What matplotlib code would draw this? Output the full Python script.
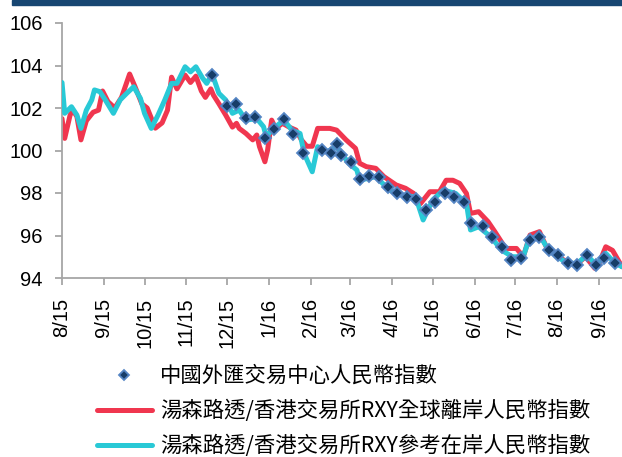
import matplotlib
matplotlib.use("Agg")
import matplotlib.pyplot as plt
import pandas as pd

plt.rcParams["font.family"] = ["Liberation Sans", "Noto Sans CJK TC"]

# CFETS RMB index (weekly)
cfets_dates = [
    "2015-11-20", "2015-12-01", "2015-12-08", "2015-12-15", "2015-12-22",
    "2015-12-29", "2016-01-05", "2016-01-12", "2016-01-19", "2016-01-26",
    "2016-02-09", "2016-02-16", "2016-02-20", "2016-02-23", "2016-03-02",
    "2016-03-08", "2016-03-15", "2016-03-22", "2016-03-29", "2016-04-05",
    "2016-04-12", "2016-04-19", "2016-04-26", "2016-05-03", "2016-05-10",
    "2016-05-17", "2016-05-24", "2016-05-29", "2016-06-07", "2016-06-14",
    "2016-06-21", "2016-06-28", "2016-07-05", "2016-07-12", "2016-07-19",
    "2016-07-26", "2016-08-02", "2016-08-09", "2016-08-16", "2016-08-23",
    "2016-08-30", "2016-09-05", "2016-09-13",
]
cfets_vals = [
    103.55, 102.08, 102.18, 101.51, 101.59,
    100.58, 101.02, 101.48, 100.80, 99.86,
    100.04, 99.86, 100.30, 99.79, 99.45,
    98.66, 98.81, 98.77, 98.27, 98.01,
    97.83, 97.72, 97.20, 97.59, 97.98,
    97.80, 97.59, 96.60, 96.45, 95.92,
    95.47, 94.85, 94.96, 95.78, 95.94,
    95.31, 95.06, 94.69, 94.61, 95.08,
    94.61, 94.92, 94.69,
]

# Thomson Reuters/HKEX RXY global offshore CNH index
offshore_dates = [
    "2015-08-01", "2015-08-03", "2015-08-07", "2015-08-09", "2015-08-12",
    "2015-08-15", "2015-08-19", "2015-08-24", "2015-08-28", "2015-08-31",
    "2015-09-04", "2015-09-09", "2015-09-14", "2015-09-20", "2015-09-24",
    "2015-09-29", "2015-10-03", "2015-10-09", "2015-10-14", "2015-10-18",
    "2015-10-21", "2015-10-25", "2015-10-31", "2015-11-04", "2015-11-08",
    "2015-11-12", "2015-11-15", "2015-11-19", "2015-11-21", "2015-11-25",
    "2015-11-30", "2015-12-05", "2015-12-08", "2015-12-10", "2015-12-15",
    "2015-12-20", "2015-12-23", "2015-12-25", "2015-12-29", "2015-12-31",
    "2016-01-03", "2016-01-06", "2016-01-11", "2016-01-16", "2016-01-21",
    "2016-01-25", "2016-01-29", "2016-02-02", "2016-02-06", "2016-02-15",
    "2016-02-20", "2016-02-27", "2016-03-05", "2016-03-08", "2016-03-13",
    "2016-03-20", "2016-03-26", "2016-04-04", "2016-04-11", "2016-04-17",
    "2016-04-22", "2016-04-29", "2016-05-06", "2016-05-11", "2016-05-16",
    "2016-05-21", "2016-05-26", "2016-05-29", "2016-06-04", "2016-06-11",
    "2016-06-16", "2016-06-24", "2016-07-02", "2016-07-07", "2016-07-12",
    "2016-07-19", "2016-07-24", "2016-07-31", "2016-08-08", "2016-08-15",
    "2016-08-22", "2016-08-29", "2016-09-01", "2016-09-06", "2016-09-11",
    "2016-09-18",
]
offshore_vals = [
    101.50, 100.57, 101.67, 101.90, 101.60,
    100.50, 101.40, 101.80, 101.90, 102.80,
    102.30, 102.00, 102.50, 103.60, 103.00,
    102.20, 102.00, 101.05, 101.30, 101.90,
    103.45, 102.90, 103.55, 103.20, 103.50,
    102.80, 102.50, 102.90, 102.60, 102.20,
    101.67, 101.10, 101.28, 101.04, 100.80,
    100.50, 100.73, 100.18, 99.47, 100.02,
    101.43, 101.04, 101.28, 101.10, 100.96,
    100.50, 100.20, 100.20, 101.04, 101.04,
    100.96, 100.50, 100.10, 99.40, 99.24,
    99.16, 98.77, 98.38, 98.22, 97.98,
    97.50, 98.06, 98.06, 98.60, 98.60,
    98.45, 97.98, 97.04, 97.12, 96.65,
    96.18, 95.39, 95.39, 95.00, 96.02,
    96.18, 95.47, 95.08, 94.77, 94.61,
    95.00, 94.45, 94.69, 95.47, 95.30,
    94.53,
]

# Thomson Reuters/HKEX RXY reference onshore CNY index
onshore_dates = [
    "2015-08-01", "2015-08-03", "2015-08-08", "2015-08-12", "2015-08-15",
    "2015-08-19", "2015-08-23", "2015-08-25", "2015-08-29", "2015-09-02",
    "2015-09-08", "2015-09-13", "2015-09-18", "2015-09-23", "2015-09-28",
    "2015-10-01", "2015-10-06", "2015-10-11", "2015-10-16", "2015-10-21",
    "2015-10-25", "2015-10-31", "2015-11-04", "2015-11-08", "2015-11-13",
    "2015-11-16", "2015-11-20", "2015-11-25", "2015-11-30", "2015-12-05",
    "2015-12-10", "2015-12-15", "2015-12-23", "2015-12-28", "2015-12-30",
    "2016-01-03", "2016-01-06", "2016-01-12", "2016-01-18", "2016-01-24",
    "2016-01-27", "2016-02-02", "2016-02-06", "2016-02-13", "2016-02-20",
    "2016-02-29", "2016-03-06", "2016-03-08", "2016-03-20", "2016-03-30",
    "2016-04-09", "2016-04-16", "2016-04-20", "2016-04-24", "2016-05-01",
    "2016-05-09", "2016-05-18", "2016-05-26", "2016-05-29", "2016-06-04",
    "2016-06-13", "2016-06-21", "2016-06-29", "2016-07-07", "2016-07-11",
    "2016-07-19", "2016-07-25", "2016-08-01", "2016-08-09", "2016-08-16",
    "2016-08-23", "2016-08-30", "2016-09-06", "2016-09-13", "2016-09-18",
]
onshore_vals = [
    103.20, 101.75, 102.06, 101.67, 101.04,
    101.90, 102.38, 102.85, 102.77, 102.38,
    101.75, 102.38, 102.70, 103.00, 102.45,
    101.75, 101.04, 101.67, 102.38, 103.16,
    103.16, 103.94, 103.70, 103.94, 103.40,
    103.16, 103.60, 102.69, 102.38, 101.75,
    101.90, 101.43, 101.50, 101.12, 100.65,
    100.96, 101.12, 101.43, 100.96, 100.80,
    99.86, 99.00, 100.18, 99.94, 100.18,
    99.40, 99.08, 98.60, 98.77, 98.14,
    97.90, 97.83, 97.51, 96.73, 97.67,
    98.14, 97.98, 97.51, 96.26, 96.41,
    95.94, 95.31, 95.00, 95.00, 95.78,
    96.02, 95.39, 95.00, 94.69, 94.69,
    95.08, 94.61, 95.16, 94.69, 94.53,
]

month_ticks = pd.date_range("2015-08-01", "2016-09-01", freq="MS")
tick_labels = ["8/15", "9/15", "10/15", "11/15", "12/15", "1/16", "2/16",
               "3/16", "4/16", "5/16", "6/16", "7/16", "8/16", "9/16"]

label_cfets = "中國外匯交易中心人民幣指數"
label_offshore = "湯森路透/香港交易所RXY全球離岸人民幣指數"
label_onshore = "湯森路透/香港交易所RXY參考在岸人民幣指數"

fig = plt.figure(figsize=(6.22, 4.57), dpi=100)
ax = fig.add_axes([62 / 622, 1 - 278 / 457, 1 - 62 / 622, 255 / 457])

# navy band along the top
fig.patches.append(plt.Rectangle((12 / 622, 1 - 4.5 / 457), 1, 4.5 / 457,
                                 transform=fig.transFigure, color="#174672",
                                 zorder=5))

ax.plot(pd.to_datetime(offshore_dates), offshore_vals, color="#f0364f",
        lw=3.6, solid_joinstyle="round", solid_capstyle="round",
        label=label_offshore, zorder=2)
ax.plot(pd.to_datetime(onshore_dates), onshore_vals, color="#29c9d6",
        lw=3.6, solid_joinstyle="round", solid_capstyle="round",
        label=label_onshore, zorder=3)
ax.plot(pd.to_datetime(cfets_dates), cfets_vals, ls="none", marker="D",
        ms=6.5, mfc="#173d68", mec="#5585c4", mew=1.3, label=label_cfets,
        zorder=4)

ax.set_xlim(pd.Timestamp("2015-08-01"), pd.Timestamp("2016-09-18"))
ax.set_ylim(94, 106)
ax.set_yticks(range(94, 107, 2))
ax.set_xticks(month_ticks)
ax.set_xticklabels(tick_labels, rotation=90)

for side in ["top", "right"]:
    ax.spines[side].set_visible(False)
for side in ["left", "bottom"]:
    ax.spines[side].set_color("#a6a6a6")
    ax.spines[side].set_linewidth(1.3)
ax.tick_params(axis="both", colors="#a6a6a6", labelcolor="black",
               labelsize=14.5, length=5, width=1.3, pad=9)

handles, labels = ax.get_legend_handles_labels()
order = [2, 0, 1]
fig.legend([handles[i] for i in order], [labels[i] for i in order],
           loc="upper left", bbox_to_anchor=(97 / 622, 1 - 365 / 457),
           frameon=False, borderpad=0, borderaxespad=0, handlelength=2.57,
           handletextpad=0.37, labelspacing=0.6, markerscale=0.8,
           prop={"family": ["Noto Sans CJK TC"], "size": 15.4})

fig.savefig("out.png", dpi=100)
